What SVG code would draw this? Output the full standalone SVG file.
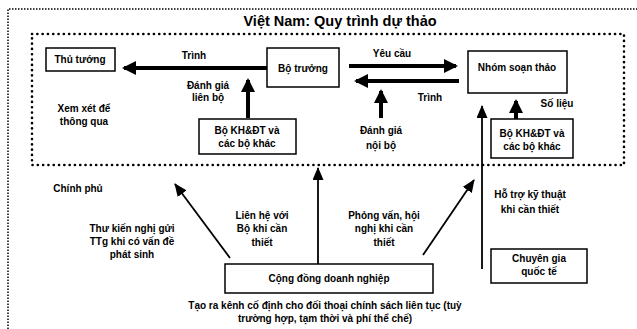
<svg xmlns="http://www.w3.org/2000/svg" width="637" height="329" viewBox="0 0 637 329">
<style>
text{font-family:"Liberation Sans",Arial,sans-serif;font-weight:bold;font-size:10px;fill:#000;text-anchor:middle}
.title{font-size:14.5px}
.box{fill:#fff;stroke:#000;stroke-width:1.5}
.thick{stroke:#000;stroke-width:4;fill:none}
.thin{stroke:#000;stroke-width:1.8;fill:none}
</style>
<defs>
<marker id="ah" markerWidth="14" markerHeight="14" refX="12" refY="7" orient="auto" markerUnits="userSpaceOnUse"><path d="M0,0 L14,7 L0,14 Z" fill="#000"/></marker>
<marker id="as" markerWidth="13" markerHeight="11" refX="12" refY="5.5" orient="auto" markerUnits="userSpaceOnUse"><path d="M0,0 L13,5.5 L0,11 Z" fill="#000"/></marker>
</defs>
<rect width="637" height="329" fill="#fff"/>
<g id="frames">
<path d="M8,335 V9 H640" fill="none" stroke="#000" stroke-width="1.5" stroke-dasharray="1.5,1.5"/>
<rect x="32" y="34" width="592" height="131" fill="none" stroke="#000" stroke-width="2.6" stroke-dasharray="0.1,5.2" stroke-linecap="round"/>
<text class="title" x="340" y="26">Việt Nam: Quy trình dự thảo</text>
</g>
<g id="connectors">
<line class="thick" x1="267" y1="68" x2="124" y2="68" marker-end="url(#ah)"/>
<line class="thick" x1="248" y1="118" x2="248" y2="80" marker-end="url(#ah)"/>
<line class="thick" x1="349" y1="66" x2="456" y2="66" marker-end="url(#ah)"/>
<line class="thick" x1="459" y1="81" x2="356" y2="81" marker-end="url(#ah)"/>
<line class="thick" x1="381" y1="118" x2="381" y2="91" marker-end="url(#ah)"/>
<line class="thick" x1="516" y1="119" x2="516" y2="101" marker-end="url(#ah)"/>
<line class="thin" x1="482" y1="269" x2="482" y2="106" marker-end="url(#as)"/>
<line class="thin" x1="230" y1="258" x2="175" y2="184" marker-end="url(#as)"/>
<line class="thin" x1="318" y1="264" x2="318" y2="168" marker-end="url(#as)"/>
<line class="thin" x1="423" y1="255" x2="474" y2="180" marker-end="url(#as)"/>
</g>
<g id="thu-tuong"><rect class="box" x="46" y="48" width="69" height="23"/><text x="80" y="63">Thủ tướng</text></g>
<g id="bo-truong"><rect class="box" x="267" y="48" width="72" height="39"/><text x="303" y="72">Bộ trưởng</text></g>
<g id="bo-khdt-1"><rect class="box" x="199" y="119" width="97" height="35"/><text x="247" y="134">Bộ KH&amp;ĐT và</text><text x="247" y="147">các bộ khác</text></g>
<g id="nhom-soan-thao"><rect class="box" x="468" y="51" width="99" height="42"/><text x="517" y="71">Nhóm soạn thảo</text></g>
<g id="bo-khdt-2"><rect class="box" x="491" y="119" width="82" height="39"/><text x="532" y="137">Bộ KH&amp;ĐT và</text><text x="532" y="150">các bộ khác</text></g>
<g id="cong-dong"><rect class="box" x="225" y="264" width="208" height="29"/><text x="329" y="282">Cộng đồng doanh nghiệp</text></g>
<g id="chuyen-gia"><rect class="box" x="491" y="249" width="96" height="34"/><text x="539" y="262">Chuyên gia</text><text x="539" y="275">quốc tế</text></g>
<g id="labels">
<text x="194" y="59">Trình</text>
<text x="208" y="89">Đánh giá</text><text x="208" y="101">liên bộ</text>
<text x="84" y="112">Xem xét để</text><text x="84" y="125">thông qua</text>
<text x="392" y="57">Yêu cầu</text>
<text x="430" y="101">Trình</text>
<text x="381" y="134">Đánh giá</text><text x="381" y="149">nội bộ</text>
<text x="557" y="107">Số liệu</text>
<text x="78" y="192">Chính phủ</text>
<text x="132" y="232">Thư kiến nghị gửi</text><text x="132" y="245">TTg khi có vấn đề</text><text x="132" y="258">phát sinh</text>
<text x="262" y="219">Liên hệ với</text><text x="262" y="232">Bộ khi cần</text><text x="262" y="246">thiết</text>
<text x="384" y="219">Phỏng vấn, hội</text><text x="384" y="232">nghị khi cần</text><text x="384" y="246">thiết</text>
<text x="530" y="198">Hỗ trợ kỹ thuật</text><text x="530" y="213">khi cần thiết</text>
<text x="325" y="309">Tạo ra kênh cố định cho đối thoại chính sách liên tục (tuỳ</text>
<text x="325" y="322">trường hợp, tạm thời và phí thể chế)</text>
</g>
</svg>
